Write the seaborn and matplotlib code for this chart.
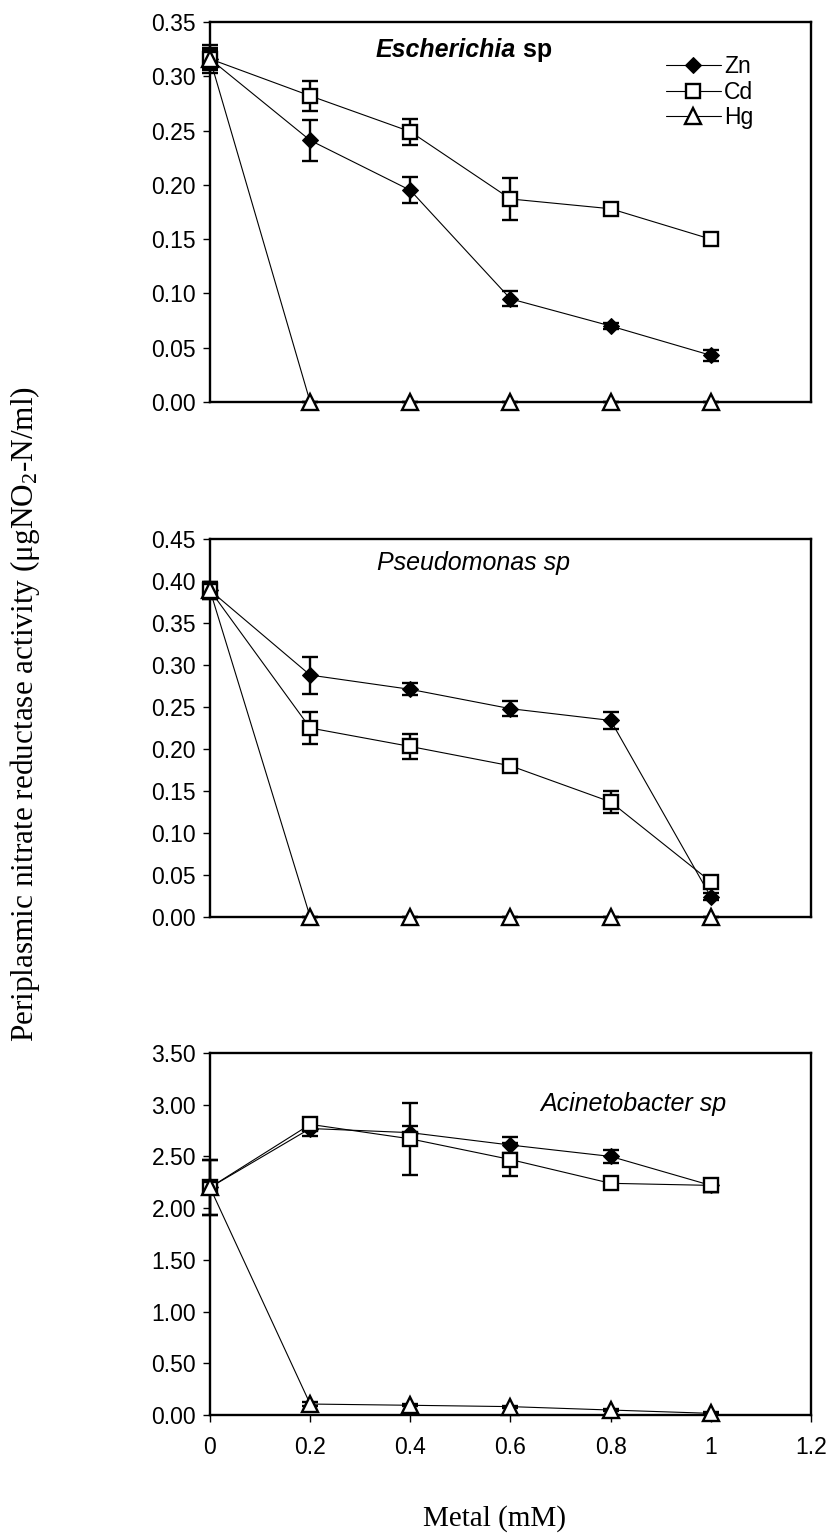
import matplotlib
matplotlib.use("Agg")
import matplotlib.pyplot as plt
import seaborn as sns
import pandas as pd

sns.set_theme(style="white")
plt.rcParams["font.family"] = ["Liberation Sans", "DejaVu Sans"]
plt.rcParams["mathtext.fontset"] = "custom"
plt.rcParams["mathtext.rm"] = "Liberation Serif"
plt.rcParams["mathtext.it"] = "Liberation Serif:italic"
for key in ("text.color", "axes.labelcolor", "xtick.color", "ytick.color"):
    plt.rcParams[key] = "black"

# Metal concentration (mM)
metal = [0, 0.2, 0.4, 0.6, 0.8, 1.0]
metals = ["Zn", "Cd", "Hg"]

# Escherichia sp
esch_zn = [0.316, 0.241, 0.195, 0.095, 0.070, 0.043]
esch_zn_err = [0.013, 0.019, 0.012, 0.007, 0.003, 0.005]
esch_cd = [0.316, 0.282, 0.249, 0.187, 0.178, 0.150]
esch_cd_err = [0.010, 0.014, 0.012, 0.019, 0.003, 0.002]
esch_hg = [0.316, 0.0, 0.0, 0.0, 0.0, 0.0]
esch_hg_err = [0.008, 0, 0, 0, 0, 0]

# Pseudomonas sp
pseu_zn = [0.389, 0.288, 0.271, 0.248, 0.234, 0.024]
pseu_zn_err = [0.010, 0.022, 0.007, 0.009, 0.010, 0.004]
pseu_cd = [0.389, 0.225, 0.203, 0.180, 0.137, 0.042]
pseu_cd_err = [0.010, 0.019, 0.015, 0.003, 0.013, 0.004]
pseu_hg = [0.389, 0.0, 0.0, 0.0, 0.0, 0.0]
pseu_hg_err = [0.008, 0, 0, 0, 0, 0]

# Acinetobacter sp
acin_zn = [2.20, 2.77, 2.73, 2.61, 2.50, 2.22]
acin_zn_err = [0.27, 0.07, 0.06, 0.08, 0.06, 0.06]
acin_cd = [2.20, 2.81, 2.67, 2.47, 2.24, 2.22]
acin_cd_err = [0.27, 0.03, 0.35, 0.16, 0.03, 0.06]
acin_hg = [2.20, 0.106, 0.094, 0.081, 0.048, 0.016]
acin_hg_err = [0.05, 0.02, 0.01, 0.01, 0.01, 0.01]

panels = [
    ((esch_zn, esch_cd, esch_hg), (esch_zn_err, esch_cd_err, esch_hg_err),
     [0, 0.05, 0.10, 0.15, 0.20, 0.25, 0.30, 0.35]),
    ((pseu_zn, pseu_cd, pseu_hg), (pseu_zn_err, pseu_cd_err, pseu_hg_err),
     [0, 0.05, 0.10, 0.15, 0.20, 0.25, 0.30, 0.35, 0.40, 0.45]),
    ((acin_zn, acin_cd, acin_hg), (acin_zn_err, acin_cd_err, acin_hg_err),
     [0, 0.5, 1.0, 1.5, 2.0, 2.5, 3.0, 3.5]),
]

x_ticks = [0, 0.2, 0.4, 0.6, 0.8, 1.0, 1.2]
x_labels = ["0", "0.2", "0.4", "0.6", "0.8", "1", "1.2"]

styles = {
    "Zn": dict(marker="D", markersize=8.5, markerfacecolor="black", markeredgecolor="black"),
    "Cd": dict(marker="s", markersize=10.5, markerfacecolor="white", markeredgecolor="black",
               markeredgewidth=1.7),
    "Hg": dict(marker="^", markersize=12, markerfacecolor="white", markeredgecolor="black",
               markeredgewidth=1.7),
}

TICK_FS = 16.5
TITLE_FS = 18

W, H = 829, 1533
fig = plt.figure(figsize=(W / 100, H / 100), dpi=100)
left_px, right_px = 210, 811
boxes = [(22, 402), (539, 917), (1053, 1415)]

axes = []
for (top_px, bot_px) in boxes:
    ax = fig.add_axes([left_px / W, 1 - bot_px / H, (right_px - left_px) / W, (bot_px - top_px) / H])
    axes.append(ax)

for i, (ax, (series, errs, yt)) in enumerate(zip(axes, panels)):
    for j, (m, vals, err) in enumerate(zip(metals, series, errs)):
        df = pd.DataFrame({"metal": metal, "activity": vals})
        eb = ax.errorbar(metal, vals, yerr=err, fmt="none", ecolor="black", elinewidth=1.7,
                         capsize=5.5, capthick=1.7, zorder=2 + j)
        for art in eb.lines[1] + eb.lines[2]:
            art.set_clip_on(False)
        sns.lineplot(data=df, x="metal", y="activity", ax=ax, color="black", linewidth=0.8,
                     label=m, zorder=3 + j, clip_on=False, **styles[m])
    ax.set_xlim(0, 1.2)
    ax.set_ylim(yt[0], yt[-1])
    ax.set_yticks(yt)
    ax.set_yticklabels([f"{v:.2f}" for v in yt], fontsize=TICK_FS)
    ax.set_xlabel("")
    ax.set_ylabel("")
    for s in ax.spines.values():
        s.set_visible(True)
        s.set_color("black")
        s.set_linewidth(1.7)
        s.set_zorder(1)
    ax.tick_params(axis="y", direction="out", length=5, width=1, color="black",
                   labelcolor="black", pad=5, left=True)
    if i < 2:
        ax.set_xticks([])
    else:
        ax.set_xticks(x_ticks)
        ax.set_xticklabels(x_labels, fontsize=TICK_FS)
        ax.tick_params(axis="x", direction="out", length=5, width=1, color="black",
                       labelcolor="black", pad=10, bottom=True)
    ax.grid(False)
    if i == 0:
        leg = ax.legend(loc="upper left", bbox_to_anchor=(0.758, 0.912), frameon=False,
                        fontsize=TICK_FS, handlelength=2.4, handletextpad=0.15,
                        labelspacing=0.1, borderpad=0, borderaxespad=0)
        for t in leg.get_texts():
            t.set_color("black")
    else:
        lg = ax.get_legend()
        if lg is not None:
            lg.remove()

# Panel titles
axes[0].text(0.61, 0.324, "Escherichia", ha="right", va="center", fontsize=TITLE_FS,
             fontweight="bold", style="italic", color="black")
axes[0].text(0.61, 0.324, " sp", ha="left", va="center", fontsize=TITLE_FS, fontweight="bold",
             color="black")
axes[1].text(0.526, 0.422, "Pseudomonas sp", ha="center", va="center", fontsize=TITLE_FS,
             style="italic", color="black")
axes[2].text(0.846, 3.01, "Acinetobacter sp", ha="center", va="center", fontsize=TITLE_FS,
             style="italic", color="black")

fig.text(25 / W, 1 - 714 / H, "Periplasmic nitrate reductase activity (\u03bcgNO$_2$-N/ml)",
         rotation=90, ha="center", va="center", fontsize=22.5, family="Liberation Serif",
         color="black")
fig.text(495 / W, 1 - 1526 / H, "Metal (mM)", ha="center", va="baseline", fontsize=21,
         family="Liberation Serif", color="black")

fig.savefig("out.png", dpi=100, facecolor="white")
